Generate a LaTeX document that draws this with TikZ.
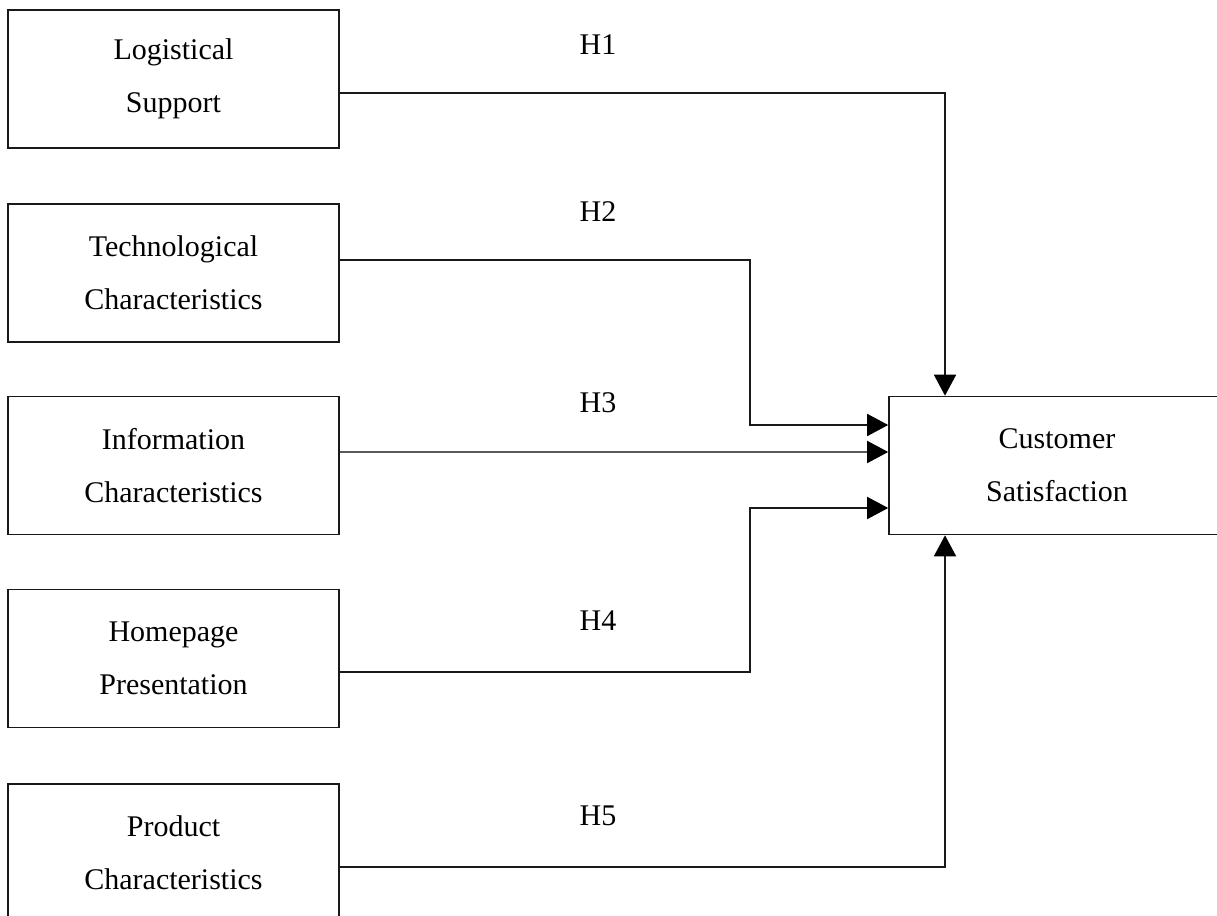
\documentclass[tikz,border=0pt]{standalone}
\usepackage{fontspec}
\setmainfont{Liberation Serif}
\usetikzlibrary{arrows.meta,calc}
\begin{document}
\begin{tikzpicture}[x=1pt,y=-1pt,
  box/.style={draw=black!90,line width=1.6pt,minimum width=331pt,minimum height=138pt,
    align=center,inner sep=0pt,font=\fontsize{30}{53}\selectfont},
  hlabel/.style={font=\fontsize{30}{34}\selectfont},
  arr/.style={line width=1.6pt,draw=black!90,-{Triangle[length=21pt,width=22pt,color=black]}}]
\useasboundingbox (0,0) rectangle (1217,915);

% construct boxes
\node[box] (ls) at (173.5,79)    {Logistical\\Support};
\node[box] (ts) at (173.5,273)   {Technological\\Characteristics};
\node[box] (ic) at (173.5,465.5) {Information\\Characteristics};
\node[box] (hp) at (173.5,658.5) {Homepage\\Presentation};
\node[box] (pc) at (173.5,853)   {Product\\Characteristics};
\node[box,minimum width=336pt] (cs) at (1057,465.5) {Customer\\Satisfaction};

% hypothesis labels
\node[hlabel] (h1) at (598,45)  {H1};
\node[hlabel] (h2) at (598,212) {H2};
\node[hlabel] (h3) at (598,403) {H3};
\node[hlabel] (h4) at (598,621) {H4};
\node[hlabel] (h5) at (598,816) {H5};

% hypothesised paths
\draw[arr] ([yshift=-14pt]ls.east) -| ([xshift=-112pt]cs.north);
\draw[arr] ([yshift=13pt]ts.east) -| ([xshift=-138pt,yshift=40.5pt]cs.west) -- ([yshift=40.5pt]cs.west);
\draw[arr,draw=black!65] ([yshift=13.5pt]ic.east) -- ([yshift=13.5pt]cs.west);
\draw[arr] ([yshift=-13.5pt]hp.east) -| ([xshift=-138pt,yshift=-42.5pt]cs.west) -- ([yshift=-42.5pt]cs.west);
\draw[arr] ([yshift=-14pt]pc.east) -| ([xshift=-112pt]cs.south);
\end{tikzpicture}
\end{document}
